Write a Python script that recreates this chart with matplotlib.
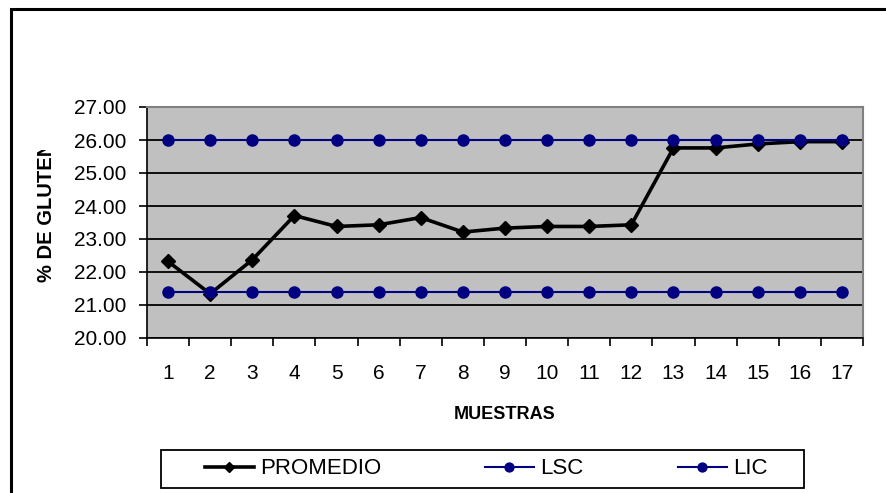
import numpy as np
import matplotlib
matplotlib.use("Agg")
import matplotlib.pyplot as plt
from matplotlib.patches import Rectangle
from matplotlib.transforms import Bbox

plt.rcParams['font.family'] = ['Liberation Sans', 'DejaVu Sans']

# data
muestras = [str(i) for i in range(1, 18)]
promedio = [22.32, 21.34, 22.37, 23.71, 23.38, 23.43, 23.65, 23.21, 23.33,
            23.38, 23.38, 23.43, 25.76, 25.76, 25.88, 25.95, 25.95]
lsc = [26.0] * 17
lic = [21.38] * 17
yticks = [20, 21, 22, 23, 24, 25, 26, 27]

W, H = 886, 493
fig = plt.figure(figsize=(W / 100, H / 100), dpi=100)
fig.patch.set_facecolor('white')

# outer chart frame (cut off at right and bottom like the original)
fig.add_artist(Rectangle((10.5 / W, -0.2), 1.2, 1.2 - 8.5 / H,
                         transform=fig.transFigure, fill=False,
                         edgecolor='black', lw=2.2, clip_on=False))

ax = fig.add_axes([147 / W, 1 - 338 / H, (863 - 147) / W, (338 - 107) / H])
ax.set_facecolor('#C0C0C0')

x = np.arange(len(muestras))
l1, = ax.plot(x, promedio, color='black', lw=2.6, marker='D', ms=7, label='PROMEDIO', zorder=3)
l2, = ax.plot(x, lsc, color='#000080', lw=1.5, marker='o', ms=8, label='LSC', zorder=4)
l3, = ax.plot(x, lic, color='#000080', lw=1.5, marker='o', ms=8, label='LIC', zorder=4)

ax.set_xlim(-0.5, len(muestras) - 0.5)
ax.set_ylim(20, 27)
ax.set_yticks(yticks)
ax.set_yticklabels(['%.2f' % v for v in yticks], fontsize=15)
ax.yaxis.grid(True, color='black', lw=1.3)
ax.set_axisbelow(True)

ax.set_xticks(x)
ax.set_xticklabels(muestras, fontsize=15)
ax.set_xticks(np.arange(-0.5, len(muestras)), minor=True)
ax.tick_params(axis='x', which='major', length=0, pad=19)
ax.tick_params(axis='x', which='minor', length=6, width=1.2, direction='out')
ax.tick_params(axis='y', length=6, width=1.2, direction='out', pad=9)

for s in ['left', 'bottom']:
    ax.spines[s].set_color('black')
    ax.spines[s].set_linewidth(1.2)
for s in ['top', 'right']:
    ax.spines[s].set_color('#808080')
    ax.spines[s].set_linewidth(1.5)

ax.set_xlabel('MUESTRAS', fontsize=13, fontweight='bold', labelpad=16)

# y label, clipped at the top like in the original
ylab = fig.text(46 / W, 1 - 282 / H, '% DE GLUTEN', rotation=90,
                ha='center', va='bottom', fontsize=14.5, fontweight='bold')
ylab.set_clip_box(Bbox.from_extents(0, 0, W, H - 150))
ylab.set_clip_on(True)

# legend: frame plus one entry per column
fig.add_artist(Rectangle((160.5 / W, 1 - 488 / H), (804 - 160.5) / W, 38 / H,
                         transform=fig.transFigure, fill=False,
                         edgecolor='black', lw=1.3))
for handle, xpos in [(l1, 205), (l2, 485), (l3, 678)]:
    fig.legend([handle], [handle.get_label()], loc='center left',
               bbox_to_anchor=(xpos / W, 1 - 469 / H), fontsize=16,
               frameon=False, handlelength=2.2, handletextpad=0.3,
               markerscale=0.8, borderpad=0, borderaxespad=0)

fig.savefig('out.png', dpi=100)
